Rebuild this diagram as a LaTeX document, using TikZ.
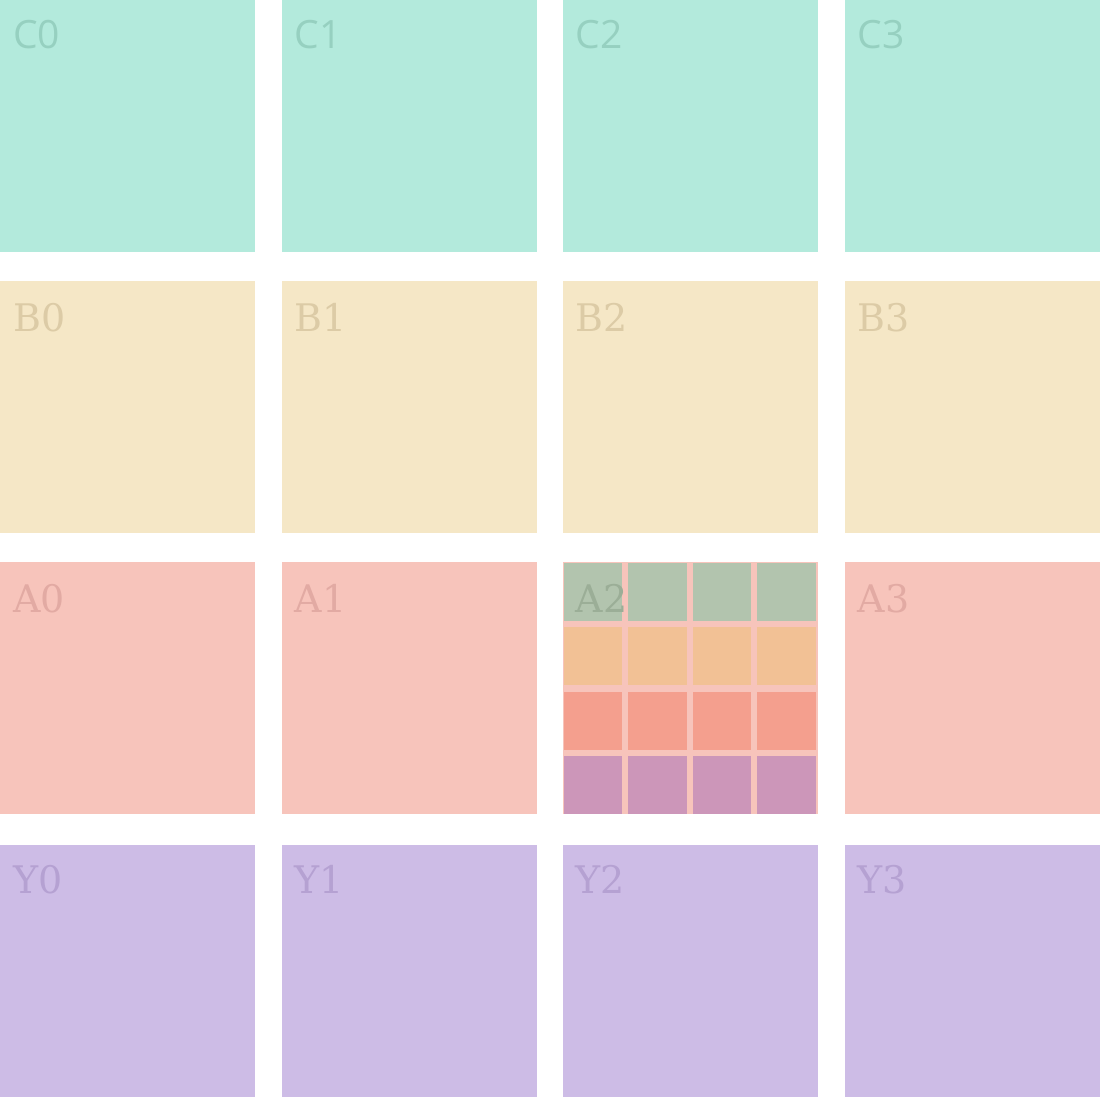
\documentclass[tikz,border=0pt]{standalone}
\usepackage{fontspec}
\usetikzlibrary{calc}
\setmainfont{DejaVu Serif}
\setsansfont{Open Sans}
\definecolor{cfill}{HTML}{B3EADC}
\definecolor{ctext}{HTML}{96D0C0}
\definecolor{bfill}{HTML}{F5E7C6}
\definecolor{btext}{HTML}{DCCBA6}
\definecolor{afill}{HTML}{F7C4BB}
\definecolor{atext}{HTML}{E2AAA3}
\definecolor{yfill}{HTML}{CDBCE6}
\definecolor{ytext}{HTML}{B5A1D2}
\definecolor{sgreen}{HTML}{B2C4AE}
\definecolor{sorange}{HTML}{F2C195}
\definecolor{sred}{HTML}{F49F8E}
\definecolor{spurple}{HTML}{CC96B9}
\definecolor{gtext}{HTML}{9BAE97}
\begin{document}
\begin{tikzpicture}[x=1pt,y=-1pt,
  cell/.style={draw=none,inner sep=0pt,outer sep=0pt,anchor=north west,minimum width=255pt,minimum height=252pt},
  sub/.style={draw=none,inner sep=0pt,outer sep=0pt,anchor=north west,minimum width=58.5pt,minimum height=58pt},
  lbl/.style={inner sep=0pt,anchor=base west,font=\fontsize{38}{38}\selectfont},
  clbl/.style={lbl,font=\sffamily\fontsize{39}{39}\selectfont}]
\useasboundingbox (0,0) rectangle (1100,1097);
\fill[white] (0,0) rectangle (1100,1097);
% column lefts and row tops
\foreach \c/\x in {0/0,1/281.5,2/562.5,3/844.5}{
  \node[cell,fill=cfill] (C\c) at (\x,0) {};
  \node[cell,fill=bfill] (B\c) at (\x,281) {};
  \node[cell,fill=afill] (A\c) at (\x,562) {};
  \node[cell,fill=yfill,minimum height=253pt] (Y\c) at (\x,844.5) {};
}
% sub-grid inside A2
\foreach \i in {0,1,2,3}{
  \node[sub,fill=sgreen] (g\i) at ($(A2.north west)+(1+64.5*\i,1)$) {};
  \node[sub,fill=sorange] (o\i) at ($(A2.north west)+(1+64.5*\i,65.3)$) {};
  \node[sub,fill=sred] (r\i) at ($(A2.north west)+(1+64.5*\i,129.6)$) {};
  \node[sub,fill=spurple] (p\i) at ($(A2.north west)+(1+64.5*\i,193.9)$) {};
}
% labels
\foreach \c in {0,1,2,3}{
  \node[clbl,text=ctext] (lC\c) at ($(C\c.north west)+(13,48.5)$) {C\c};
  \node[lbl,text=btext] (lB\c) at ($(B\c.north west)+(13,50)$) {B\c};
  \node[lbl,text=ytext] (lY\c) at ($(Y\c.north west)+(13,48.5)$) {Y\c};
}
\foreach \c in {0,1,3}{
  \node[lbl,text=atext] (lA\c) at ($(A\c.north west)+(13,50)$) {A\c};
}
\node[lbl,text=gtext] (lA2) at ($(A2.north west)+(13,50)$) {A2};
\end{tikzpicture}
\end{document}
